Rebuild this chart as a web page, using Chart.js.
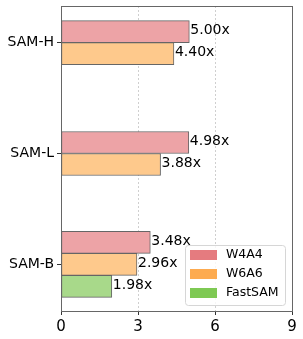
<!DOCTYPE html>
<html><head><meta charset="utf-8">
<script src="https://cdn.jsdelivr.net/npm/chart.js@4"></script>
<style>html,body{margin:0;padding:0;background:#fff}</style>
</head><body>
<canvas id="c" width="303" height="339"></canvas>
<script>
const categories = ['SAM-H', 'SAM-L', 'SAM-B'];
const seriesNames = ['W4A4', 'W6A6', 'FastSAM'];
const w4a4 = [5.00, 4.98, 3.48];
const w6a6 = [4.40, 3.88, 2.96];
const fastsam = [null, null, 1.98];
const xTicks = [0, 3, 6, 9];
const barColors = ['#eda3a6', '#fec98c', '#a8d98a'];
const legendColors = ['#e57b7f', '#fdab50', '#7ec953'];

const FONT = '"DejaVu Sans", sans-serif';
const seriesValues = [w4a4, w6a6, fastsam];

const datasets = seriesNames.map((name, s) => ({
  label: name,
  data: seriesValues[s].map((v, i) => ({ x: v, y: i })),
  backgroundColor: barColors[s],
  borderColor: '#666666',
  borderWidth: 1,
  borderSkipped: false,
  barThickness: 22,
  skipNull: true
}));

const frame = {
  id: 'frame',
  afterDatasetsDraw(chart) {
    const { ctx, chartArea: a } = chart;
    ctx.save();
    ctx.strokeStyle = '#666666';
    ctx.lineWidth = 1;
    ctx.strokeRect(Math.round(a.left) + 0.5, Math.round(a.top) + 0.5,
      Math.round(a.right - a.left), Math.round(a.bottom - a.top));
    ctx.restore();
  }
};

const valueLabels = {
  id: 'valueLabels',
  afterDatasetsDraw(chart) {
    const { ctx } = chart;
    ctx.save();
    ctx.font = '14px ' + FONT;
    ctx.fillStyle = '#000';
    ctx.textAlign = 'left';
    ctx.textBaseline = 'middle';
    chart.data.datasets.forEach((ds, di) => {
      const meta = chart.getDatasetMeta(di);
      meta.data.forEach((el, i) => {
        const v = ds.data[i].x;
        if (v === null || v === undefined) return;
        ctx.fillText(v.toFixed(2) + 'x', el.x + 1, el.y - 1);
      });
    });
    ctx.restore();
  }
};

const boxLegend = {
  id: 'boxLegend',
  afterDraw(chart) {
    const { ctx, chartArea: a } = chart;
    const w = 100, h = 60;
    const x0 = a.right - 7 - w, y0 = a.bottom - 6 - h;
    ctx.save();
    ctx.beginPath();
    ctx.roundRect(x0 + 0.5, y0 + 0.5, w, h, 3);
    ctx.fillStyle = 'rgba(255,255,255,0.8)';
    ctx.fill();
    ctx.strokeStyle = '#d6d6d6';
    ctx.lineWidth = 1;
    ctx.stroke();
    ctx.font = '12.5px ' + FONT;
    ctx.textBaseline = 'middle';
    ctx.textAlign = 'left';
    chart.data.datasets.forEach((ds, i) => {
      const cy = y0 + 10 + i * 19;
      ctx.fillStyle = legendColors[i];
      ctx.fillRect(x0 + 5, cy - 5, 27, 10);
      ctx.fillStyle = '#000';
      ctx.fillText(ds.label, x0 + 41, cy);
    });
    ctx.restore();
  }
};

new Chart(document.getElementById('c'), {
  type: 'bar',
  data: { datasets },
  options: {
    indexAxis: 'y',
    responsive: false,
    animation: false,
    devicePixelRatio: 1,
    layout: { padding: { top: 6, right: 11, left: 0, bottom: 0 } },
    plugins: { legend: { display: false }, tooltip: { enabled: false } },
    scales: {
      x: {
        type: 'linear',
        position: 'bottom',
        min: xTicks[0],
        max: xTicks[xTicks.length - 1],
        afterBuildTicks: (s) => { s.ticks = xTicks.map(v => ({ value: v })); },
        afterFit: (s) => { s.height = 28; },
        ticks: { font: { size: 15, family: FONT }, color: '#000', padding: 3 },
        grid: {
          color: (c) => (c.tick && (c.tick.value === 3 || c.tick.value === 6)) ? '#cfcfcf' : 'rgba(0,0,0,0)',
          lineWidth: 1,
          tickColor: '#333',
          tickWidth: 1,
          tickLength: 4
        },
        border: { display: false, dash: [2, 2] }
      },
      y: {
        type: 'linear',
        reverse: true,
        offset: false,
        min: -0.33,
        max: 2.42,
        afterBuildTicks: (s) => { s.ticks = categories.map((c, i) => ({ value: i })); },
        afterFit: (s) => { s.width = 61; s.paddingTop = 0; s.paddingBottom = 0; },
        ticks: {
          autoSkip: false,
          font: { size: 14, family: FONT },
          color: '#000',
          padding: 3,
          callback: (v) => categories[v]
        },
        grid: {
          offset: false,
          drawOnChartArea: false,
          drawTicks: true,
          tickColor: '#333',
          tickWidth: 1,
          tickLength: 4
        },
        border: { display: false }
      }
    }
  },
  plugins: [frame, valueLabels, boxLegend]
});
</script>
</body></html>
